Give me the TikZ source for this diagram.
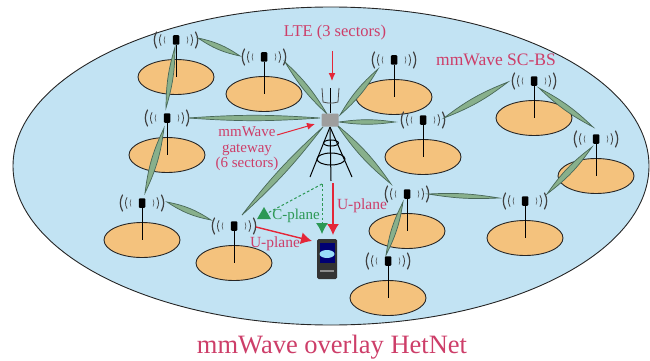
\documentclass[tikz,border=0pt]{standalone}
\usepackage{fontspec}
\setmainfont{Liberation Serif}
\usetikzlibrary{arrows.meta,shapes.geometric}
\definecolor{skyfill}{RGB}{194,227,243}
\definecolor{discfill}{RGB}{244,194,125}
\definecolor{beamfill}{RGB}{136,176,140}
\definecolor{beamedge}{RGB}{72,104,88}
\definecolor{labelred}{RGB}{205,62,105}
\definecolor{arrowred}{RGB}{228,38,56}
\definecolor{planegreen}{RGB}{44,152,84}
\tikzset{
  cell/.style={draw=black!85,fill=discfill,ellipse,line width=0.9pt,minimum width=76pt,minimum height=35pt,inner sep=0pt},
  head/.style={fill=black,rounded corners=1pt,minimum width=6.5pt,minimum height=9.5pt,inner sep=0pt},
  beam/.style={draw=beamedge,fill=beamfill,line width=0.7pt},
  wave/.style={draw=black!75,line cap=round},
  lbl/.style={text=labelred,inner sep=0pt,align=center},
  thinred/.style={draw=arrowred,line width=1pt,-{Latex[length=8pt,width=7pt]}},
  thickred/.style={draw=arrowred,line width=1.4pt,-{Latex[length=11pt,width=12pt]}},
  ctrl/.style={draw=planegreen,line width=1pt,dash pattern=on 2.6pt off 2.2pt},
  tower/.style={draw=black,line width=1pt}
}
\begin{document}
\begin{tikzpicture}[x=1pt,y=-1pt]
\useasboundingbox (0,0) rectangle (650,361);
\node[draw=black!85,fill=skyfill,ellipse,line width=0.9pt,minimum width=636pt,minimum height=318pt,inner sep=0pt] (net) at (331,166) {};

% small cells
\foreach \nm/\x/\y in {a/176/40,b/264/57,c/167/118,d/142/203,e/234/226,f/394/60,g/423/120,h/534/81,i/596/139,j/525/201,k/407/194,l/388/261}{
  \node[cell] (cell\nm) at (\x,\y+37) {};
  \node[head] (\nm) at (\x,\y) {};
  \draw[line width=0.9pt] (\nm) -- (cell\nm.center);
  \foreach \h/\w/\o in {8/1.2/19.5,5.5/0.8/15,3.5/0.5/11}{
    \draw[wave,line width=\w pt] ([xshift=-\o pt,yshift=\h pt]\nm.center) to[bend right=28] ([xshift=-\o pt,yshift=-\h pt]\nm.center);
    \draw[wave,line width=\w pt] ([xshift=\o pt,yshift=\h pt]\nm.center) to[bend left=28] ([xshift=\o pt,yshift=-\h pt]\nm.center);
  }
}

% beam ends
\foreach \nm/\x/\y in {ac/175/47,ca/166/108,ab/198/38,ba/240/56,bgw/285/62,gwb/327/114,cgw/188/118,gwc/320/118,
  cd/164/128,dc/145/193,de/167/202,ed/211/220,egw/242/215,gwe/323/127,gwk/337/125,kgw/391/184,
  gwg/339/122,ggw/395/122,gwf/340/115,fgw/378/69,gh/444/118,hg/508/82,hi/539/88,ih/593/127,
  ij/592/147,ji/547/194,kj/428/194,jk/499/198,kl/403/202,lk/386/255}{
  \coordinate (\nm) at (\x,\y);
}
\foreach \p/\q/\ang in {ac/ca/8,ab/ba/11,bgw/gwb/8,cgw/gwc/4,cd/dc/9,de/ed/11,egw/gwe/5,gwk/kgw/8,gwg/ggw/8,gwf/fgw/9,gh/hg/8,hi/ih/8,ij/ji/9,kj/jk/6,kl/lk/9}{
  \draw[beam] (\p) to[bend left=\ang] (\q) to[bend left=\ang] (\p) -- cycle;
}

% tower
\coordinate (apex) at (330,127);
\coordinate (legl) at (310,177);
\coordinate (legr) at (352,177);
\coordinate (legm) at (331,181);
\draw[tower] (apex) -- (legl);
\draw[tower] (apex) -- (legr);
\draw[tower] (apex) -- (legm);
\node[draw=black,ellipse,line width=1pt,minimum width=15pt,minimum height=6pt,inner sep=0pt] (ringtop) at (331,143) {};
\node[draw=black,ellipse,line width=1pt,minimum width=28pt,minimum height=12pt,inner sep=0pt] (ringlow) at (331,159) {};
\coordinate (mastt) at (330,88);
\coordinate (mastb) at (330,113);
\coordinate (antl) at (322,88);
\coordinate (antlb) at (323,102);
\coordinate (antr) at (339,88);
\coordinate (antrb) at (338,102);
\draw[line width=0.9pt] (mastt) -- (mastb);
\draw[draw=black!70,line width=0.8pt] (antl) -- (antlb) to[bend right=15] (antrb) -- (antr);
\node[fill=black!38,rounded corners=1pt,minimum width=17pt,minimum height=13pt,inner sep=0pt] (gw) at (330,120) {};

% phone
\node[fill=black!80,rounded corners=1.5pt,minimum width=20pt,minimum height=40pt,inner sep=0pt] (phone) at (327,259) {};
\node[fill=blue!45!black,minimum width=15pt,minimum height=20pt,inner sep=0pt] (screen) at (327,253) {};
\node[fill=cyan!40,ellipse,minimum width=15pt,minimum height=8pt,inner sep=0pt] (glow) at (327,254) {};
\node[fill=black!45,minimum width=14pt,minimum height=1.5pt,inner sep=0pt] (keyrow) at (327,271) {};

% arrows
\coordinate (ltetop) at (332,51);
\coordinate (ltetip) at (332,81);
\coordinate (gwtail) at (277,135);
\coordinate (gwtip) at (315,124);
\coordinate (uptop) at (333,183);
\coordinate (uptip) at (333,235);
\coordinate (utail) at (256,227);
\coordinate (utip) at (312,241);
\coordinate (cbend) at (322,184);
\coordinate (cdown) at (322,234);
\draw[thinred] (ltetop) -- (ltetip);
\draw[thinred] (gwtail) -- (gwtip);
\draw[thickred] (uptop) -- (uptip);
\draw[thickred] (utail) -- (utip);
\node[fill=planegreen,regular polygon,regular polygon sides=3,minimum size=16pt,inner sep=0pt] (ctip) at (264,215) {};
\draw[ctrl] (cbend) -- (ctip);
\draw[ctrl,-{Latex[length=11pt,width=12pt,sep=0pt]}] (cbend) -- (cdown);

% labels
\node[lbl,font=\fontsize{16.5}{18}\selectfont] (lte) at (335,33) {LTE (3 sectors)};
\node[lbl,font=\fontsize{17.5}{19}\selectfont] (scbs) at (496,60) {mmWave SC-BS};
\node[lbl,font=\fontsize{15}{15.5}\selectfont] (gwtext) at (247,149) {mmWave\\gateway\\(6 sectors)};
\node[lbl,font=\fontsize{15.5}{17}\selectfont] (uright) at (362,206) {U-plane};
\node[lbl,font=\fontsize{15.5}{17}\selectfont] (uleft) at (275,244) {U-plane};
\node[text=planegreen,font=\fontsize{15}{17}\selectfont,inner sep=0pt] (cplane) at (296,216) {C-plane};
\node[text=labelred,font=\fontsize{26.5}{28}\selectfont,inner sep=0pt] (title) at (332,347) {mmWave overlay HetNet};
\end{tikzpicture}
\end{document}
